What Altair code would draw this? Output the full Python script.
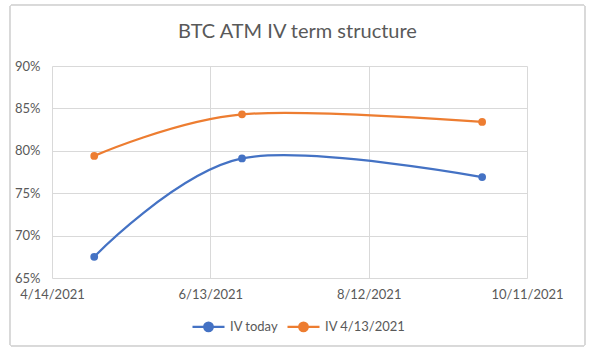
import altair as alt
import pandas as pd

expiries = ["2021-04-30", "2021-06-25", "2021-09-24"]
iv_today = [0.675, 0.791, 0.769]
iv_0413 = [0.794, 0.843, 0.834]
series_names = ["IV today", "IV 4/13/2021"]
colors = ["#4472C4", "#ED7D31"]
y_ticks = [0.65, 0.70, 0.75, 0.80, 0.85, 0.90]
x_ticks = [(2021, 4, 14), (2021, 6, 13), (2021, 8, 12), (2021, 10, 11)]

rows = []
for name, vals in zip(series_names, [iv_today, iv_0413]):
    for d, v in zip(expiries, vals):
        rows.append({"date": d, "iv": v, "series": name})
df = pd.DataFrame(rows)

tick_values = [alt.DateTime(year=y, month=m, date=d, utc=True) for y, m, d in x_ticks]

FONT = "Lato"
GREY = "#595959"
GRID = "#d9d9d9"

legend_path = "M-1,0H1M0.27,0A0.27,0.27,0,1,1,-0.27,0A0.27,0.27,0,1,1,0.27,0Z"

x_enc = alt.X("date:T",
              scale=alt.Scale(type="utc", domain=[tick_values[0], tick_values[-1]]),
              axis=alt.Axis(values=tick_values,
                            labelExpr="utcFormat(datum.value, '%-m/%-d/%Y')",
                            title=None, grid=True, gridColor=GRID, domain=False,
                            ticks=False, labelPadding=10, labelFlush=False))
y_enc = alt.Y("iv:Q",
              scale=alt.Scale(domain=[0.65, 0.90], nice=False, zero=False),
              axis=alt.Axis(values=y_ticks, format=".0%", title=None, grid=True,
                            gridColor=GRID, domain=False, ticks=False, labelPadding=12))

legend = alt.Legend(
    title=None, orient="none", direction="horizontal",
    legendX=139, legendY=243, symbolType=legend_path,
    symbolSize=1024, symbolStrokeWidth=2.25,
    labelFontSize=13, labelColor=GREY, labelFont=FONT,
    columnPadding=4, labelOffset=4, padding=0,
)

lines = alt.Chart(df).mark_line(
    interpolate="cardinal", tension=0, strokeWidth=2.25,
).encode(
    x=x_enc, y=y_enc,
    stroke=alt.Stroke("series:N", scale=alt.Scale(domain=series_names, range=colors),
                      legend=legend),
)

points = alt.Chart(df).mark_point(filled=True, size=60, opacity=1).encode(
    x=x_enc, y=y_enc,
    fill=alt.Fill("series:N", scale=alt.Scale(domain=series_names, range=colors),
                  legend=legend),
)

border = alt.Chart(df).mark_rect(
    fill="transparent", stroke=GRID, strokeWidth=1, cornerRadius=2
).encode(
    x=alt.value(-42), x2=alt.value(533), y=alt.value(-61), y2=alt.value(280)
)

chart = alt.layer(border, lines, points).properties(
    width=475, height=212,
    title=alt.TitleParams("BTC ATM IV term structure", fontSize=20, font=FONT,
                          fontWeight="normal", color=GREY, offset=-37, dx=8),
    autosize=alt.AutoSizeParams(type="none"),
    padding={"left": 52, "top": 66, "right": 68, "bottom": 74},
).configure_view(stroke=None).configure_axis(
    labelFont=FONT, labelFontSize=13, labelColor=GREY
)

chart.save("out.html", embed_options={"renderer": "svg", "actions": False})
